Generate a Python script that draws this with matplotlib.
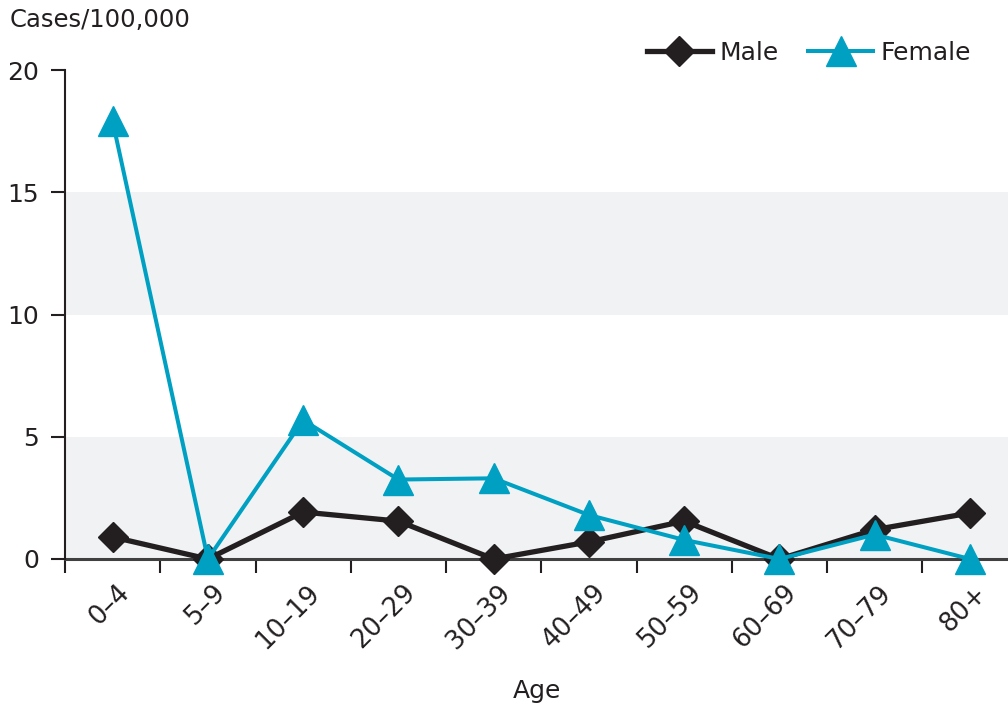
import matplotlib
matplotlib.use('Agg')
import matplotlib.pyplot as plt
import matplotlib.transforms as mtransforms
import numpy as np

age_groups = ['0\u20134', '5\u20139', '10\u201319', '20\u201329', '30\u201339',
              '40\u201349', '50\u201359', '60\u201369', '70\u201379', '80+']
male = [0.9, 0.0, 1.92, 1.55, 0.0, 0.7, 1.55, 0.0, 1.2, 1.88]
female = [17.9, 0.0, 5.68, 3.25, 3.3, 1.8, 0.78, 0.0, 1.0, 0.0]
y_ticks = [0, 5, 10, 15, 20]
bands = [(0, 5), (10, 15)]

MALE_COLOR = '#231f20'
FEMALE_COLOR = '#00a0c3'
TEXT_COLOR = '#231f20'

plt.rcParams['font.family'] = ['DejaVu Sans']

fig = plt.figure(figsize=(10.08, 7.09), dpi=100)
ax = fig.add_axes([65 / 1008, 150 / 709, 943 / 1008, 489 / 709])

x = np.arange(len(age_groups))

for lo, hi in bands:
    ax.axhspan(lo, hi, color='#f0f2f4', zorder=0, lw=0)

ax.plot(x, male, color=MALE_COLOR, lw=3.8, marker='D', ms=15,
        label='Male', clip_on=False, zorder=3)
ax.plot(x, female, color=FEMALE_COLOR, lw=2.9, marker='^', ms=22,
        label='Female', clip_on=False, zorder=4)

ax.set_xlim(-0.5, 9.4)
ax.set_ylim(0, 20)

# ticks: y on values, x at category boundaries
ax.set_yticks(y_ticks)
ax.set_yticklabels([str(t) for t in y_ticks], fontsize=18, color=TEXT_COLOR)
ax.tick_params(axis='y', length=10, width=1.5, color=MALE_COLOR, pad=8.5)

ax.set_xticks(x)
ax.set_xticklabels(age_groups, fontsize=18.5, color=TEXT_COLOR, rotation=45,
                   ha='right', va='top', rotation_mode='anchor')
ax.tick_params(axis='x', which='major', length=0, pad=15)
ax.set_xticks(np.arange(-0.5, 9.5, 1.0), minor=True)
ax.tick_params(axis='x', which='minor', length=10, width=1.5, color=MALE_COLOR)

offset = mtransforms.ScaledTranslation(4 / 100, 0, fig.dpi_scale_trans)
for lbl in ax.get_xticklabels():
    lbl.set_transform(lbl.get_transform() + offset)

for side in ['top', 'right']:
    ax.spines[side].set_visible(False)
ax.spines['left'].set_color(MALE_COLOR)
ax.spines['left'].set_linewidth(1.5)
ax.spines['bottom'].set_color('#404040')
ax.spines['bottom'].set_linewidth(2.2)
ax.spines['bottom'].set_zorder(2)

ax.set_xlabel('Age', fontsize=18, color=TEXT_COLOR, labelpad=18)
fig.text(10 / 1008, 1 - 20 / 709, 'Cases/100,000', fontsize=17.5,
         color=TEXT_COLOR, va='center', ha='left')

ax.legend(loc='upper right', bbox_to_anchor=(0.985, 1.105), ncol=2,
          frameon=False, fontsize=18, handlelength=2.6, columnspacing=1.2,
          handletextpad=0.3, labelcolor=TEXT_COLOR)

fig.savefig('out.png', dpi=100)
